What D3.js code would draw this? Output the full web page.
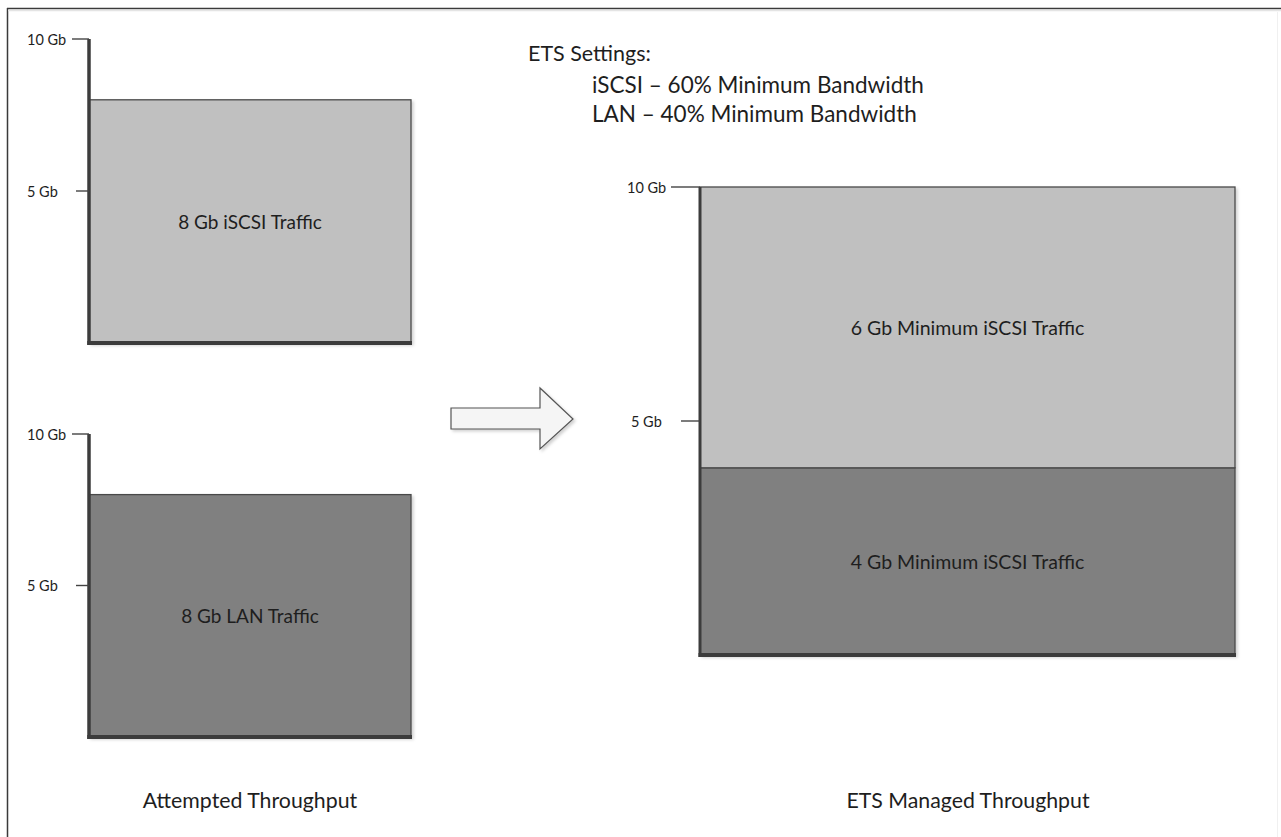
<!DOCTYPE html>
<html>
<head>
<meta charset="utf-8">
<script src="https://cdn.jsdelivr.net/npm/d3@7"></script>
<style>
  html, body { margin: 0; padding: 0; background: #fff; }
  svg { display: block; }
  text { font-family: Lato, "Open Sans", sans-serif; fill: #1e1e1e; }
</style>
</head>
<body>
<svg id="chart" width="1281" height="837"></svg>
<script>
// ---------------- DATA ----------------
const tickValues = [5, 10];
const tickLabels = ["5 Gb", "10 Gb"];

const attemptedCategories = ["iSCSI", "LAN"];
const attemptedValues = [8, 8];
const attemptedLabels = ["8 Gb iSCSI Traffic", "8 Gb LAN Traffic"];

const etsCategories = ["LAN", "iSCSI"];          // stacked bottom -> top
const etsValues = [4, 6];
const etsLabels = ["4 Gb Minimum iSCSI Traffic", "6 Gb Minimum iSCSI Traffic"];

const settingsTitle = "ETS Settings:";
const settingsLines = ["iSCSI \u2013 60% Minimum Bandwidth", "LAN \u2013 40% Minimum Bandwidth"];

const captions = ["Attempted Throughput", "ETS Managed Throughput"];

// ---------------- STYLE / LAYOUT ----------------
const colors = { iSCSI: "#c0c0c0", LAN: "#808080" };
const svg = d3.select("#chart");

const defs = svg.append("defs");
const f = defs.append("filter").attr("id", "shadow").attr("x", "-5%").attr("y", "-5%").attr("width", "115%").attr("height", "115%");
f.append("feDropShadow").attr("dx", 2).attr("dy", 2).attr("stdDeviation", 1.5).attr("flood-color", "#000").attr("flood-opacity", 0.18);

// frame
svg.append("line").attr("x1", 7).attr("x2", 1281).attr("y1", 8.5).attr("y2", 8.5).attr("stroke", "#3a3a3a").attr("stroke-width", 1.5);
svg.append("line").attr("x1", 7.5).attr("x2", 7.5).attr("y1", 8).attr("y2", 837).attr("stroke", "#3a3a3a").attr("stroke-width", 1.5);
svg.append("line").attr("x1", 8).attr("x2", 1281).attr("y1", 10.5).attr("y2", 10.5).attr("stroke", "#e4e4e4").attr("stroke-width", 1.5);
svg.append("line").attr("x1", 1277.5).attr("x2", 1277.5).attr("y1", 12).attr("y2", 837).attr("stroke", "#f0f0f0").attr("stroke-width", 1);

function drawPanel(cfg) {
  const y = d3.scaleLinear().domain([0, 10]).range([cfg.bottom, cfg.top]);
  const x = d3.scaleLinear().domain([0, 1]).range([cfg.left, cfg.right]);
  const g = svg.append("g");

  // bars (stacked)
  let base = 0;
  const segs = cfg.values.map((v, i) => { const s = { y0: base, y1: base + v, cat: cfg.cats[i], label: cfg.labels[i] }; base += v; return s; });
  const bars = g.append("g").attr("filter", "url(#shadow)");
  bars.selectAll("rect").data(segs).join("rect")
    .attr("x", x(0)).attr("width", x(1) - x(0))
    .attr("y", d => y(d.y1)).attr("height", d => y(d.y0) - y(d.y1))
    .attr("fill", d => colors[d.cat])
    .attr("stroke", "#4a4a4a").attr("stroke-width", 1.3);

  g.selectAll("text.bl").data(segs).join("text").attr("class", "bl")
    .attr("x", (x(0) + x(1)) / 2).attr("y", d => (y(d.y0) + y(d.y1)) / 2)
    .attr("text-anchor", "middle").attr("dominant-baseline", "central")
    .attr("font-size", cfg.barFont).text(d => d.label);

  // axis lines
  g.append("line").attr("x1", x(0)).attr("x2", x(0)).attr("y1", y(10)).attr("y2", y(0) + 2)
    .attr("stroke", "#3c3c3c").attr("stroke-width", cfg.axisW);
  g.append("line").attr("x1", x(0) - cfg.axisW / 2).attr("x2", x(1) + 1).attr("y1", y(0)).attr("y2", y(0))
    .attr("stroke", "#3c3c3c").attr("stroke-width", 4);

  // ticks
  const tg = g.selectAll("g.tick").data(tickValues).join("g").attr("class", "tick");
  tg.append("line")
    .attr("x1", (d, i) => x(0) - cfg.tickLen[i]).attr("x2", x(0))
    .attr("y1", d => y(d)).attr("y2", d => y(d))
    .attr("stroke", "#444").attr("stroke-width", 1.4);
  tg.append("text")
    .attr("x", (d, i) => cfg.labelX[i]).attr("y", d => y(d))
    .attr("dominant-baseline", "central").attr("font-size", cfg.tickFont)
    .text((d, i) => tickLabels[i]);
}

drawPanel({ top: 39, bottom: 343, left: 89, right: 411, values: [attemptedValues[0]], cats: [attemptedCategories[0]], labels: [attemptedLabels[0]],
  tickLen: [13, 17], labelX: [27, 27], tickFont: 14.5, barFont: 19, axisW: 3.5 });
drawPanel({ top: 434, bottom: 737, left: 89, right: 411, values: [attemptedValues[1]], cats: [attemptedCategories[1]], labels: [attemptedLabels[1]],
  tickLen: [13, 17], labelX: [27, 27], tickFont: 14.5, barFont: 19, axisW: 3.5 });
drawPanel({ top: 187, bottom: 655, left: 700, right: 1235, values: etsValues, cats: etsCategories, labels: etsLabels,
  tickLen: [19, 29], labelX: [631, 627], tickFont: 14.5, barFont: 19.5, axisW: 3 });

// arrow
const arrowPts = [[451, 408], [540, 408], [540, 388], [573, 419], [540, 449], [540, 429], [451, 429]];
svg.append("path").attr("d", d3.line()(arrowPts) + "Z")
  .attr("fill", "#f5f5f5").attr("stroke", "#555").attr("stroke-width", 1.2).attr("filter", "url(#shadow)");

// ETS settings text
svg.append("text").attr("x", 528).attr("y", 53).attr("dominant-baseline", "central").attr("font-size", 21.5).text(settingsTitle);
svg.selectAll("text.set").data(settingsLines).join("text").attr("class", "set")
  .attr("x", 592).attr("y", (d, i) => 84 + i * 29).attr("dominant-baseline", "central").attr("font-size", 22.5).text(d => d);

// captions
svg.selectAll("text.cap").data(captions).join("text").attr("class", "cap")
  .attr("x", (d, i) => [250, 968][i]).attr("y", 800).attr("text-anchor", "middle")
  .attr("dominant-baseline", "central").attr("font-size", 21.3).text(d => d);
</script>
</body>
</html>
